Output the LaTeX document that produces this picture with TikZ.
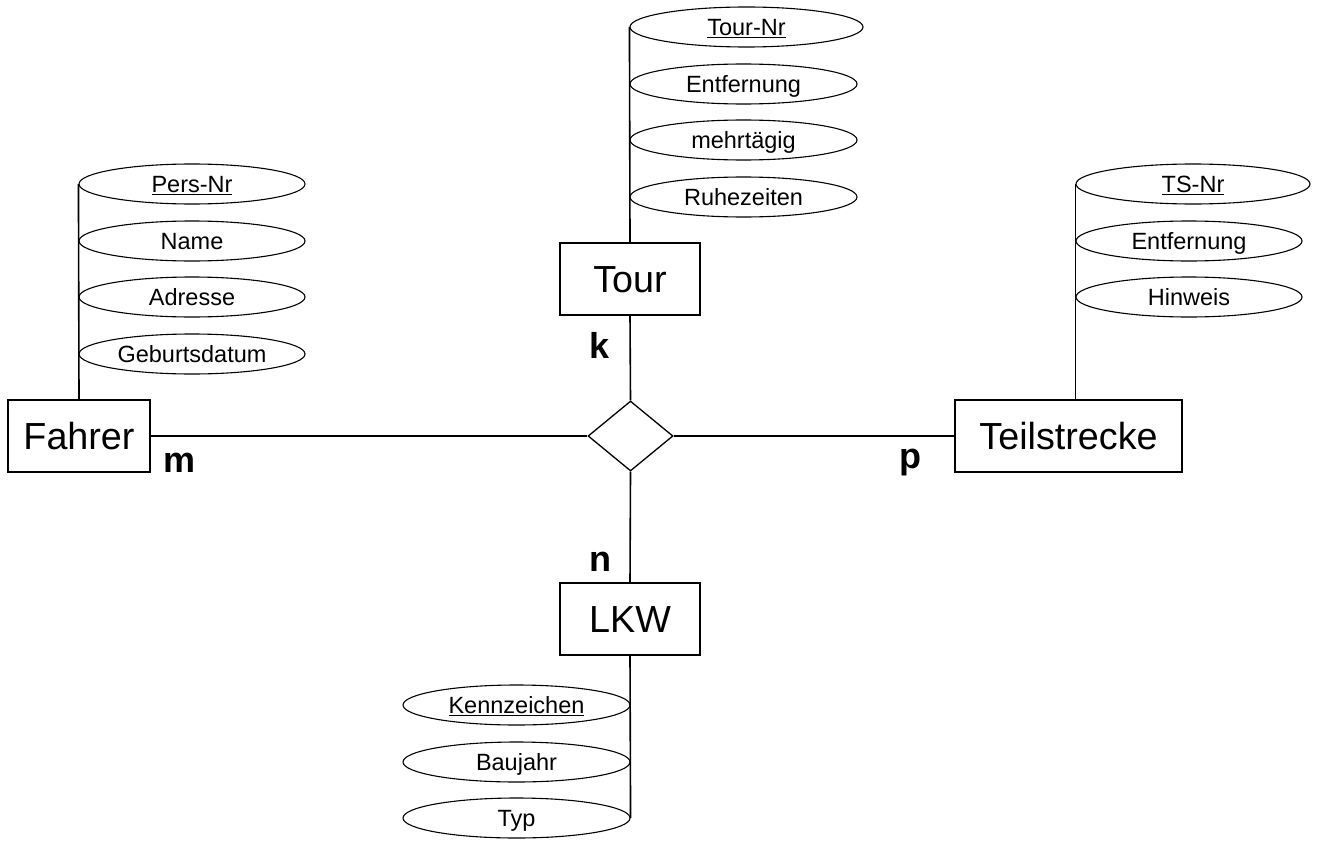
\documentclass[tikz,border=0pt]{standalone}
\usepackage{fontspec}
\setmainfont{Liberation Sans}
\usetikzlibrary{shapes.geometric}
\begin{document}
\begin{tikzpicture}[x=1pt,y=-1pt,
  entity/.style={draw,line width=1.3pt,rectangle,minimum height=72pt,inner sep=0pt,font=\fontsize{37.7}{40}\selectfont,text height=27pt,text depth=0pt},
  attr/.style={draw,line width=1.1pt,ellipse,minimum height=40pt,inner sep=0pt,font=\fontsize{23.5}{25}\selectfont,text height=16.8pt,text depth=0pt},
  rel/.style={draw,line width=1.3pt,diamond,minimum width=85pt,minimum height=70pt,inner sep=0pt},
  card/.style={font=\bfseries\fontsize{36}{38}\selectfont,inner sep=0pt},
  conn/.style={line width=1.6pt}]
\useasboundingbox (0,0) rectangle (1321,840);
% entities
\node[entity,minimum width=142pt] (fahrer) at (79,436) {Fahrer};
\node[entity,minimum width=140pt] (tour) at (630,279) {Tour};
\node[entity,minimum width=140pt] (lkw) at (630,619) {LKW};
\node[entity,minimum width=227pt] (ts) at (1068.5,436) {Teilstrecke};
\node[rel] (r) at (630.5,436) {};
% Fahrer attributes
\node[attr,minimum width=226pt] (f1) at (192,184) {\underline{Pers-Nr}};
\node[attr,minimum width=226pt] (f2) at (192,241) {Name};
\node[attr,minimum width=226pt] (f3) at (192,297) {Adresse};
\node[attr,minimum width=226pt] (f4) at (192,354) {Geburtsdatum};
% Tour attributes
\node[attr,minimum width=233pt] (t1) at (746.5,27) {\underline{Tour-Nr}};
\node[attr,minimum width=227pt] (t2) at (743.5,84) {Entfernung};
\node[attr,minimum width=227pt] (t3) at (743.5,140) {mehrtägig};
\node[attr,minimum width=227pt] (t4) at (743.5,197) {Ruhezeiten};
% Teilstrecke attributes
\node[attr,minimum width=234pt] (s1) at (1193,184) {\underline{TS-Nr}};
\node[attr,minimum width=226pt] (s2) at (1189,241) {Entfernung};
\node[attr,minimum width=226pt] (s3) at (1189,297) {Hinweis};
% LKW attributes
\node[attr,minimum width=227pt] (l1) at (516.5,705) {\underline{Kennzeichen}};
\node[attr,minimum width=227pt] (l2) at (516.5,762) {Baujahr};
\node[attr,minimum width=227pt] (l3) at (516.5,818) {Typ};
% attribute spines
\draw[conn] (fahrer.north) -- (f1.west);
\draw[conn] (tour.north) -- (t1.west);
\draw[conn] (s1.west) -- (s1.west |- ts.north);
\draw[conn] (lkw.south) -- (l3.east);
% relationship connectors
\draw[conn] (fahrer.east) -- (r.west);
\draw[conn] (r.east) -- (ts.west);
\draw[conn] (tour.south) -- (r.north);
\draw[conn] (r.south) -- (lkw.north);
% cardinalities
\node[card] (cm) at (180,463) {m};
\node[card] (cp) at (910,463) {p};
\node[card] (ck) at (600,345) {k};
\node[card] (cn) at (600,562) {n};
\end{tikzpicture}
\end{document}
